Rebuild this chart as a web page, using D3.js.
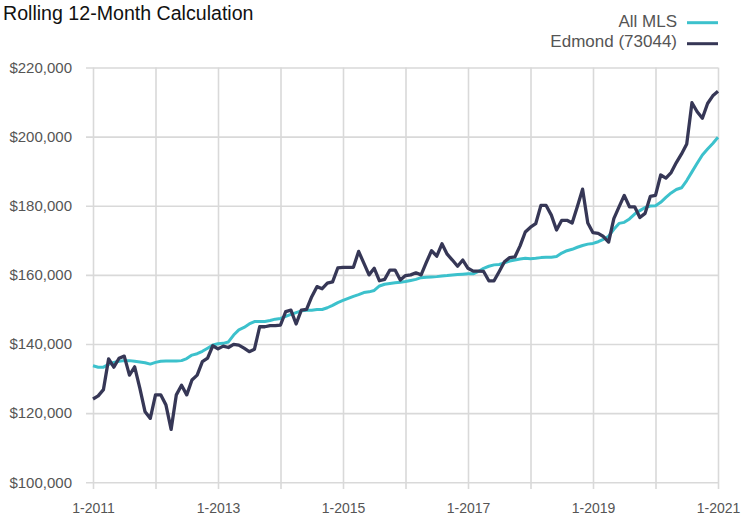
<!DOCTYPE html>
<html>
<head>
<meta charset="utf-8">
<script src="https://cdn.jsdelivr.net/npm/d3@7"></script>
<style>
  body { margin: 0; background: #fff; }
  svg { display: block; }
  text { font-family: "Liberation Sans", Arial, sans-serif; }
</style>
</head>
<body>
<div id="chart"></div>
<script>
// monthly values, 1-2011 .. 1-2021
var allMls = [
  133700, 133300, 133300, 134100, 134700, 135000, 135200, 135200, 135000, 134800, 134600, 134200,
  134700, 135000, 135100, 135100, 135100, 135200, 135800, 136800, 137200, 137900, 138800, 139700,
  140100, 140200, 140600, 142600, 144100, 144800, 145800, 146500, 146500, 146500, 146800, 147200,
  147400, 148000, 148600, 149100, 149600, 149800, 149800, 150000, 150000, 150500, 151200, 152000,
  152600, 153200, 153800, 154300, 154900, 155100, 155500, 156800, 157300, 157500, 157700, 157900,
  158100, 158400, 158700, 159200, 159300, 159400, 159500, 159700, 159800, 160000, 160100, 160200,
  160300, 160300, 161000, 161900, 162500, 162900, 163000, 163500, 164000, 164300, 164600, 164800,
  164700, 164800, 165000, 165100, 165100, 165300, 166300, 167000, 167400, 168000, 168500, 168900,
  169100, 169600, 170300, 171200, 173200, 174900, 175200, 176200, 177600, 178600, 179500, 179900,
  180000, 181000, 182400, 183700, 184700, 185200, 187300, 189800, 192300, 194700, 196400, 198000,
  199800
];

var edmond = [
  124100, 125000, 126800, 135700, 133300, 135900, 136500, 131000, 133400, 127200, 120400, 118500,
  125300, 125300, 122400, 115300, 125300, 128100, 125300, 129600, 131000, 134900, 135900, 139500,
  138600, 139400, 139000, 139900, 139700, 138800, 137800, 138500, 145000, 145000, 145300, 145300,
  145500, 149400, 149800, 145800, 149800, 150000, 153700, 156600, 156000, 157600, 158000, 162000,
  162200, 162200, 162200, 166800, 163400, 160000, 161900, 158300, 158700, 161400, 161400, 158500,
  159800, 160000, 160600, 160000, 163600, 167000, 165400, 169000, 166000, 164300, 162500, 164300,
  161900, 161100, 161100, 161000, 158300, 158300, 161000, 163800, 165000, 165200, 168400, 172400,
  173800, 174800, 180100, 180100, 177300, 173000, 175800, 175800, 175000, 179800, 184800, 175000,
  172200, 172000, 171100, 169500, 176300, 179700, 183000, 179700, 179700, 176600, 177800, 182700,
  183000, 188900, 188000, 189600, 192500, 195000, 197900, 209800, 207200, 205300, 209600, 211800,
  213100
];

var yTicks = [100000, 120000, 140000, 160000, 180000, 200000, 220000];
var xTickLabels = ["1-2011", "", "1-2013", "", "1-2015", "", "1-2017", "", "1-2019", "", "1-2021"];
var seriesNames = ["All MLS", "Edmond (73044)"];
var seriesColors = ["#3cc1cc", "#363756"];

var width = 743;
var height = 517;

var svg = d3.select("#chart")
        .append("svg")
        .attr("width", width)
        .attr("height", height);

var x = d3.scaleLinear().domain([0, allMls.length - 1]).range([93, 718]);
var y = d3.scaleLinear().domain([100000, 220000]).range([482.3, 67.5]);

// horizontal grid + labels
svg.append("g")
        .attr("class", "yaxis")
        .attr("transform", "translate(86,0)")
        .call(d3.axisLeft(y)
                .tickValues(yTicks)
                .tickSize(-(718 - 86))
                .tickPadding(14)
                .tickFormat(function(d){ return "$" + d3.format(",")(d); }));

// vertical grid + labels
svg.append("g")
        .attr("class", "xaxis")
        .attr("transform", "translate(0,489)")
        .call(d3.axisBottom(x)
                .tickValues(d3.range(0, allMls.length, 12))
                .tickSize(-(489 - 67.5))
                .tickPadding(14)
                .tickFormat(function(d, i){ return xTickLabels[i]; }));

svg.selectAll(".domain").remove();
svg.selectAll(".tick line")
        .attr("stroke", "#d9d9d9")
        .attr("stroke-width", 1.6);
svg.selectAll(".tick text")
        .attr("fill", "#555555");
svg.selectAll(".yaxis .tick text").style("font-size", "15px");
svg.selectAll(".xaxis .tick text").style("font-size", "14px");

var line = d3.line()
        .x(function(d, i){ return x(i); })
        .y(function(d){ return y(d); });

svg.append("path")
        .datum(allMls)
        .attr("fill", "none")
        .attr("stroke", seriesColors[0])
        .attr("stroke-width", 3)
        .attr("stroke-linejoin", "round")
        .attr("d", line);

svg.append("path")
        .datum(edmond)
        .attr("fill", "none")
        .attr("stroke", seriesColors[1])
        .attr("stroke-width", 3.3)
        .attr("stroke-linejoin", "round")
        .attr("d", line);

// title
svg.append("text")
        .attr("x", 3)
        .attr("y", 20)
        .attr("fill", "#111111")
        .style("font-size", "19.6px")
        .text("Rolling 12-Month Calculation");

// legend
seriesNames.forEach(function(name, i){
        svg.append("text")
                .attr("x", 677)
                .attr("y", 27 + i * 20)
                .attr("text-anchor", "end")
                .attr("fill", "#555555")
                .style("font-size", "17px")
                .text(name);
        svg.append("line")
                .attr("x1", 687)
                .attr("x2", 718)
                .attr("y1", 22.7 + i * 21)
                .attr("y2", 22.7 + i * 21)
                .attr("stroke", seriesColors[i])
                .attr("stroke-width", 3);
});
</script>
</body>
</html>
